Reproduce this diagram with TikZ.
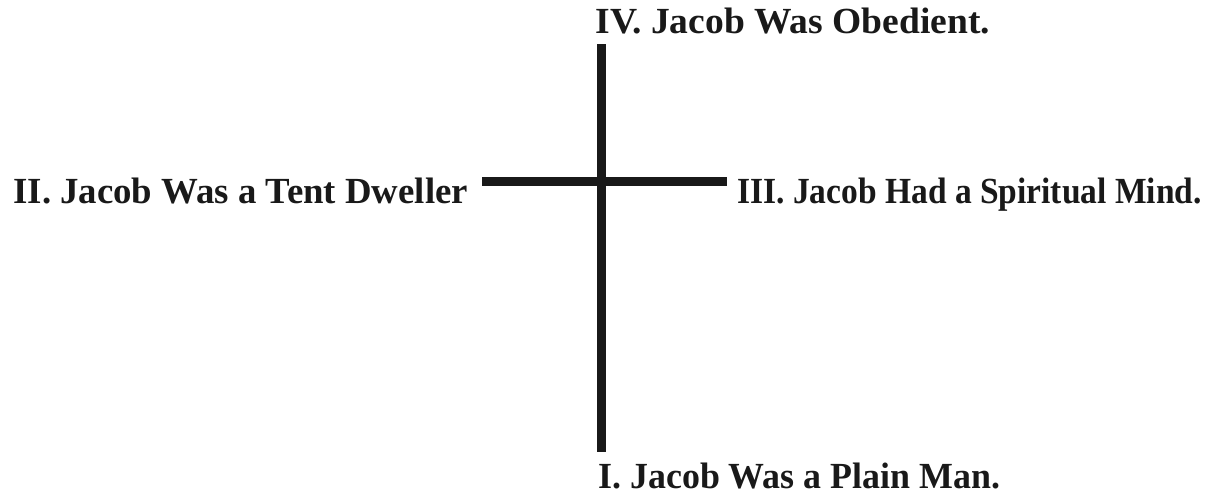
\documentclass[tikz,border=0pt]{standalone}
\usepackage{fontspec}
\usepackage{graphicx}
\setmainfont{Liberation Serif}
\usetikzlibrary{positioning}

\begin{document}
\begin{tikzpicture}[
  x=0.5pt, y=-0.5pt,
  bar/.style={line width=4.2pt, black!90},
  lab/.style={inner sep=0pt, font=\fontsize{18.4}{22}\selectfont\bfseries, text=black!90}
]
\useasboundingbox (0,0) rectangle (1211,494);

% ends of the cross
\coordinate (top) at (601.5,44);
\coordinate (bottom) at (601.5,452);
\coordinate (left) at (482,181.5);
\coordinate (right) at (727,181.5);

\draw[bar] (top) -- (bottom);
\draw[bar] (left) -- (right);

\node[lab, anchor=base west] (obedient) at (595,33) {\scalebox{1.02}[1]{IV. Jacob Was Obedient.}};
\node[lab, anchor=base west] (plain) at (598,488) {\scalebox{0.975}[1]{I. Jacob Was a Plain Man.}};
\node[lab, anchor=base west] (tent) at (13,203) {II. Jacob Was a Tent Dweller};
\node[lab, anchor=base west] (mind) at (737,203) {\scalebox{0.91}[1]{III. Jacob Had a Spiritual Mind.}};

\end{tikzpicture}
\end{document}
